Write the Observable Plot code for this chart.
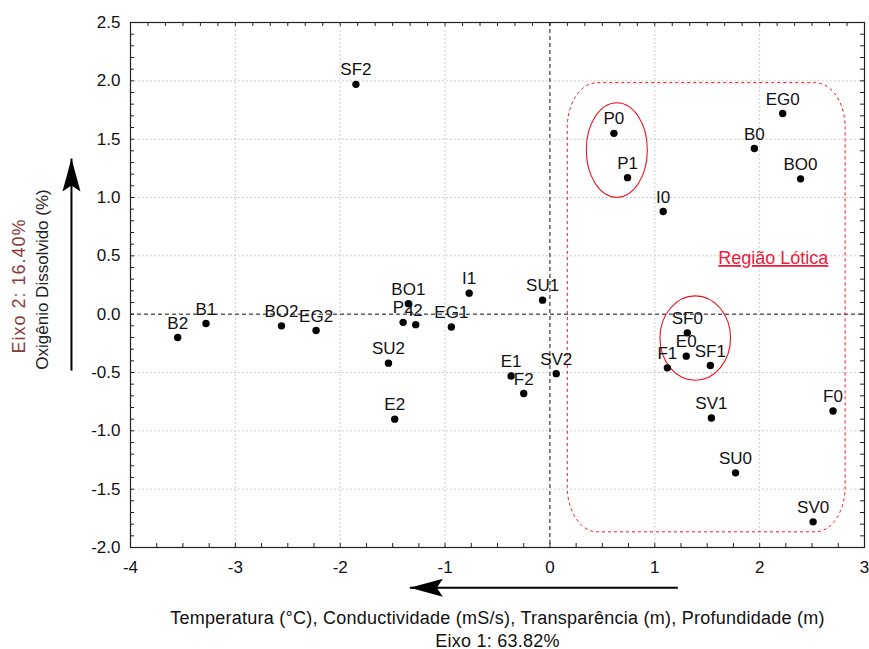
<!DOCTYPE html>
<html>
<head>
<meta charset="utf-8">
<script src="https://cdn.jsdelivr.net/npm/d3@7"></script>
<script src="https://cdn.jsdelivr.net/npm/@observablehq/plot@0.6"></script>
<style>
  html, body { margin: 0; padding: 0; background: #fff; overflow: hidden; }
  #chart svg { display: block; }
</style>
</head>
<body>
<div id="chart"></div>
<script>
// PCA scores of the sampling sites (Eixo 1 / Eixo 2)
const sites = ["B2", "B1", "BO2", "EG2", "BO1", "P2", "I2", "EG1", "I1", "SU1",
               "SU2", "E2", "E1", "F2", "SV2", "SF2",
               "P0", "P1", "I0", "B0", "EG0", "BO0",
               "SF0", "E0", "F1", "SF1", "SV1", "SU0", "F0", "SV0"];
const eixo1 = [-3.55, -3.28, -2.56, -2.23, -1.35, -1.40, -1.28, -0.94, -0.77, -0.07,
               -1.54, -1.48, -0.37, -0.25, 0.06, -1.85,
               0.61, 0.74, 1.08, 1.95, 2.22, 2.39,
               1.31, 1.30, 1.12, 1.53, 1.54, 1.77, 2.70, 2.51];
const eixo2 = [-0.20, -0.08, -0.10, -0.14, 0.09, -0.07, -0.09, -0.11, 0.18, 0.12,
               -0.42, -0.90, -0.53, -0.68, -0.51, 1.97,
               1.55, 1.17, 0.88, 1.42, 1.72, 1.16,
               -0.16, -0.36, -0.46, -0.44, -0.89, -1.36, -0.83, -1.78];

// Axis tick values and labels
const xTicks = [-4, -3, -2, -1, 0, 1, 2, 3];
const yTicks = [-2, -1.5, -1, -0.5, 0, 0.5, 1, 1.5, 2, 2.5];
const xGrid = [-3, -2, -1, 1, 2];
const yGrid = [-1.5, -1, -0.5, 0.5, 1, 1.5, 2];
const xMinorBottom = d3.range(0, 29).map(i => -4 + i * 0.25);
const xMinorTop = d3.range(0, 43).map(i => -4 + i / 6);
const yMinor = d3.range(0, 46).map(i => -2 + i / 10);

// Axis titles
const xTitle = "Temperatura (°C), Conductividade (mS/s), Transparência (m), Profundidade (m)";
const xSubtitle = "Eixo 1: 63.82%";
const yTitle = "Oxigênio Dissolvido (%)";
const ySubtitle = "Eixo 2: 16.40%";

const points = sites.map((s, i) => ({site: s, e1: eixo1[i], e2: eixo2[i]}));

// Annotations: lotic region, two site groupings, and the variable arrows
const loticRegion = [{x1: 0.17, x2: 2.82, y1: -1.87, y2: 1.98}];
const loticLabel = [{x: 2.13, y: 0.43, text: "Região Lótica"}];
const groupCenters = [{x: 0.638, y: 1.407, rx: 30.5, ry: 47.3}, {x: 1.386, y: -0.205, rx: 35.3, ry: 42.2}];
const arrowX = [{x1: 1.22, y1: -2.345, x2: -1.336, y2: -2.345}];
const arrowY = [{x1: -4.563, y1: -0.483, x2: -4.563, y2: 1.334}];

// Elliptical outline as a dot symbol (cubic Bézier approximation)
function ellipseSymbol(rx, ry) {
  const k = 0.5522847;
  return {
    draw(ctx) {
      ctx.moveTo(rx, 0);
      ctx.bezierCurveTo(rx, k * ry, k * rx, ry, 0, ry);
      ctx.bezierCurveTo(-k * rx, ry, -rx, k * ry, -rx, 0);
      ctx.bezierCurveTo(-rx, -k * ry, -k * rx, -ry, 0, -ry);
      ctx.bezierCurveTo(k * rx, -ry, rx, -k * ry, rx, 0);
      ctx.closePath();
    }
  };
}
// Notched arrowheads with the tip at the origin
const headUp = {draw(ctx) { ctx.moveTo(0, 0); ctx.lineTo(9, 33); ctx.lineTo(0, 27); ctx.lineTo(-9, 33); ctx.closePath(); }};
const headLeft = {draw(ctx) { ctx.moveTo(0, 0); ctx.lineTo(33, -9); ctx.lineTo(27, 0); ctx.lineTo(33, 9); ctx.closePath(); }};

const red = "#f01020";
const font = "Arial, 'Liberation Sans', sans-serif";

const chart = Plot.plot({
  width: 869,
  height: 649,
  marginLeft: 130,
  marginRight: 5,
  marginTop: 22,
  marginBottom: 102,
  style: {fontFamily: font, fontSize: "17px", background: "#fff", color: "#111", overflow: "visible"},
  x: {domain: [-4, 3]},
  y: {domain: [-2, 2.5]},
  marks: [
    Plot.ruleX(xGrid, {stroke: "#bdbdbd", strokeDasharray: "1.5,2.5", strokeWidth: 1}),
    Plot.ruleY(yGrid, {stroke: "#bdbdbd", strokeDasharray: "1.5,2.5", strokeWidth: 1}),
    Plot.ruleX([0], {stroke: "#111", strokeDasharray: "4,3", strokeWidth: 1}),
    Plot.ruleY([0], {stroke: "#111", strokeDasharray: "4,3", strokeWidth: 1}),
    // lotic region outline
    Plot.rect(loticRegion, {x1: "x1", x2: "x2", y1: "y1", y2: "y2", rx: 30, ry: 45,
      fill: "none", stroke: red, strokeDasharray: "3,3", strokeWidth: 1}),
    Plot.dot(groupCenters.slice(0, 1), {x: "x", y: "y", symbol: ellipseSymbol(groupCenters[0].rx, groupCenters[0].ry),
      fill: "none", stroke: red, strokeWidth: 1.1}),
    Plot.dot(groupCenters.slice(1, 2), {x: "x", y: "y", symbol: ellipseSymbol(groupCenters[1].rx, groupCenters[1].ry),
      fill: "none", stroke: red, strokeWidth: 1.1}),
    Plot.text(loticLabel, {x: "x", y: "y", text: "text", fill: "#f0203c", lineAnchor: "bottom", fontSize: 18}),
    // minor ticks on all four sides, pointing inward
    Plot.tickX(xMinorBottom, {x: d => d, insetTop: 521, stroke: "#222"}),
    Plot.tickX(xMinorTop, {x: d => d, insetBottom: 521, stroke: "#222"}),
    Plot.tickY(yMinor, {y: d => d, insetRight: 730, stroke: "#222"}),
    Plot.tickY(yMinor, {y: d => d, insetLeft: 730, stroke: "#222"}),
    Plot.frame({stroke: "#222", strokeWidth: 1.2}),
    Plot.axisX({ticks: xTicks, tickSize: 0, tickPadding: 13, tickFormat: d => String(d), label: null, fill: "#111"}),
    Plot.axisY({ticks: yTicks, tickSize: 0, tickPadding: 10, tickFormat: d => d.toFixed(1), label: null, fill: "#111"}),
    // sites
    Plot.dot(points, {x: "e1", y: "e2", r: 3.7, fill: "#000"}),
    Plot.text(points, {x: "e1", y: "e2", text: "site", lineAnchor: "bottom", dy: -9, fill: "#111", fontSize: 17}),
    // variable arrows
    Plot.link(arrowX, {x1: "x1", y1: "y1", x2: "x2", y2: "y2", stroke: "#000", strokeWidth: 2}),
    Plot.dot(arrowX, {x: "x2", y: "y2", symbol: headLeft, fill: "#000", stroke: "none"}),
    Plot.link(arrowY, {x1: "x1", y1: "y1", x2: "x2", y2: "y2", stroke: "#000", strokeWidth: 2}),
    Plot.dot(arrowY, {x: "x2", y: "y2", symbol: headUp, fill: "#000", stroke: "none"}),
    // axis titles
    Plot.text([xTitle], {frameAnchor: "bottom", text: d => d, lineAnchor: "bottom", dy: 76, fill: "#111", fontSize: 18}),
    Plot.text([xSubtitle], {frameAnchor: "bottom", text: d => d, lineAnchor: "bottom", dy: 99, fill: "#111", fontSize: 18}),
    Plot.text([ySubtitle], {frameAnchor: "left", text: d => d, rotate: -90, textAnchor: "middle", lineAnchor: "middle",
      dx: -111.7, dy: 1, fill: "#8a3a3a", fontSize: 18}),
    Plot.text([yTitle], {frameAnchor: "left", text: d => d, rotate: -90, textAnchor: "middle", lineAnchor: "middle",
      dx: -88.3, dy: -5.5, fill: "#222", fontSize: 17})
  ]
});

const svg = d3.select(chart);
// underline the region label
svg.selectAll("text")
  .filter(function() { return this.textContent === "Região Lótica"; })
  .attr("text-decoration", "underline");
// slightly wider tracking on the axis titles
svg.selectAll("text")
  .filter(function() { return this.textContent === xTitle || this.textContent === xSubtitle; })
  .attr("letter-spacing", "0.25px");
svg.selectAll("text")
  .filter(function() { return this.textContent === ySubtitle; })
  .attr("letter-spacing", "1px");

document.getElementById("chart").appendChild(chart);
</script>
</body>
</html>
